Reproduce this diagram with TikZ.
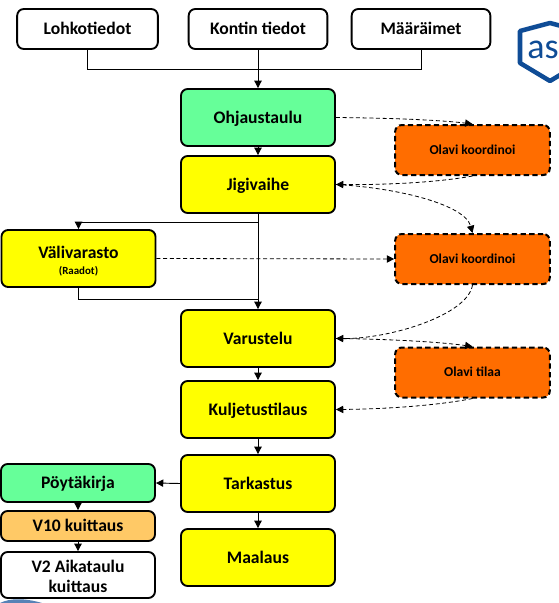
\documentclass[tikz,border=0pt]{standalone}
\usepackage{fontspec}
\setmainfont{Carlito}
\usetikzlibrary{arrows.meta}
\definecolor{flowyellow}{HTML}{FFFF00}
\definecolor{flowgreen}{HTML}{66FF99}
\definecolor{floworange}{HTML}{FF6D00}
\definecolor{flowtan}{HTML}{FFC966}
\definecolor{logoblue}{HTML}{0F4C96}
\newcommand\lowstrut{\rule[-5pt]{0pt}{11pt}}
\tikzset{
  x=0.75pt,y=-0.75pt,
  flowbox/.style={draw=black,line width=1.4pt,rounded corners=5pt,inner sep=0pt,align=center,font=\bfseries\fontsize{13.2}{15}\selectfont},
  oneline/.style={text height=8.6pt,text depth=0pt},
  wbox/.style={flowbox,fill=white,minimum width=104pt,minimum height=30pt},
  mainbox/.style={flowbox,minimum width=115.5pt,minimum height=42.75pt},
  yellowbox/.style={mainbox,fill=flowyellow},
  olavibox/.style={flowbox,fill=floworange,dashed,dash pattern=on 4pt off 2.5pt,line width=1.5pt,minimum width=116pt,minimum height=37.5pt,font=\bfseries\fontsize{10.2}{12}\selectfont,text height=6.6pt,text depth=0pt},
  sidebox/.style={flowbox,minimum width=115.5pt},
  conn/.style={draw=black,line width=0.7pt},
  arr/.style={conn,-{Triangle[length=5.5pt,width=5.5pt]}},
  darr/.style={arr,dashed,dash pattern=on 3pt off 2pt,line width=0.6pt},
}
\begin{document}
\begin{tikzpicture}
\useasboundingbox (0,0) rectangle (559,603);
% logo
\begin{scope}
\clip (0,0) rectangle (559,603);
\draw[logoblue,line width=3.4pt,line join=round,fill=white] (520,31) -- (550,23) -- (580,31) -- (580,63) -- (550,81) -- (520,63) -- cycle;
\node[logoblue,font=\fontsize{27}{27}\selectfont,anchor=west,inner sep=0pt] (logotext) at (527,50) {as};
\fill[logoblue!70] (0,603) .. controls (10,598) and (25,598) .. (42,603) -- cycle;
\end{scope}
% top row
\node[wbox,oneline,minimum width=105.5pt] (lohko) at (87.5,29) {Lohkotiedot};
\node[wbox,oneline] (kontin) at (258,29) {Kontin tiedot};
\node[wbox,oneline] (maar) at (421,29) {Määräimet};
% main column
\node[mainbox,oneline,fill=flowgreen] (ohj) at (258,117.5) {Ohjaustaulu};
\node[yellowbox,oneline] (jigi) at (258,184.5) {Jigivaihe};
\node[yellowbox] (vali) at (78.5,258.5) {\lowstrut\rule{0pt}{13.9pt}Välivarasto\\[-3pt]{\fontsize{8.2}{9}\selectfont (Raadot)}};
\node[yellowbox,oneline] (varu) at (258,338.5) {Varustelu};
\node[yellowbox,oneline] (kulj) at (258,409.5) {Kuljetustilaus};
\node[yellowbox,oneline] (tark) at (258,483.5) {Tarkastus};
\node[yellowbox,oneline] (maal) at (258,557.5) {Maalaus};
% Olavi
\node[olavibox] (ol1) at (472.5,150) {Olavi koordinoi};
\node[olavibox] (ol2) at (472.5,259) {Olavi koordinoi};
\node[olavibox] (ol3) at (472.5,372.5) {Olavi tilaa};
% left stack
\node[sidebox,oneline,fill=flowgreen,minimum height=28.5pt] (poyt) at (78,483) {Pöytäkirja};
\node[sidebox,oneline,fill=flowtan,minimum height=22.5pt] (v10) at (78,526) {V10 kuittaus};
\node[sidebox,fill=white,minimum height=34.5pt] (v2) at (78,575) {\lowstrut\rule{0pt}{11.4pt}V2 Aikataulu\\kuittaus};
% junction points
\coordinate (mrg) at (258,69);
\coordinate (brk) at (258,222);
\coordinate (rej) at (258,299);
% connectors
\draw[conn] (lohko.south) |- (mrg);
\draw[conn] (maar.south) |- (mrg);
\draw[arr] (kontin.south) -- (ohj.north);
\draw[arr] (ohj.south) -- (jigi.north);
\draw[arr] (jigi.south) -- (varu.north);
\draw[arr] (brk) -| (vali.north);
\draw[conn] (vali.south) |- (rej);
\draw[arr] (varu.south) -- (kulj.north);
\draw[arr] (kulj.south) -- (tark.north);
\draw[arr] (tark.south) -- (maal.north);
\draw[arr] (tark.west) -- (poyt.east);
\draw[arr] (poyt.south) -- (v10.north);
\draw[arr] (v10.south) -- (v2.north);
% dashed
\draw[darr] (ohj.east) .. controls (390,118) and (440,120) .. (ol1.north);
\draw[darr] (ol1.south) .. controls (440,182) and (390,185) .. (jigi.east);
\draw[darr] (jigi.east) .. controls (400,188) and (465,205) .. (ol2.north);
\draw[darr] (vali.east) -- (ol2.west);
\draw[darr] (ol2.south) .. controls (468,315) and (390,339) .. (varu.east);
\draw[darr] (varu.east) .. controls (390,339) and (440,342) .. (ol3.north);
\draw[darr] (ol3.south) .. controls (440,405) and (390,409) .. (kulj.east);
\end{tikzpicture}
\end{document}
